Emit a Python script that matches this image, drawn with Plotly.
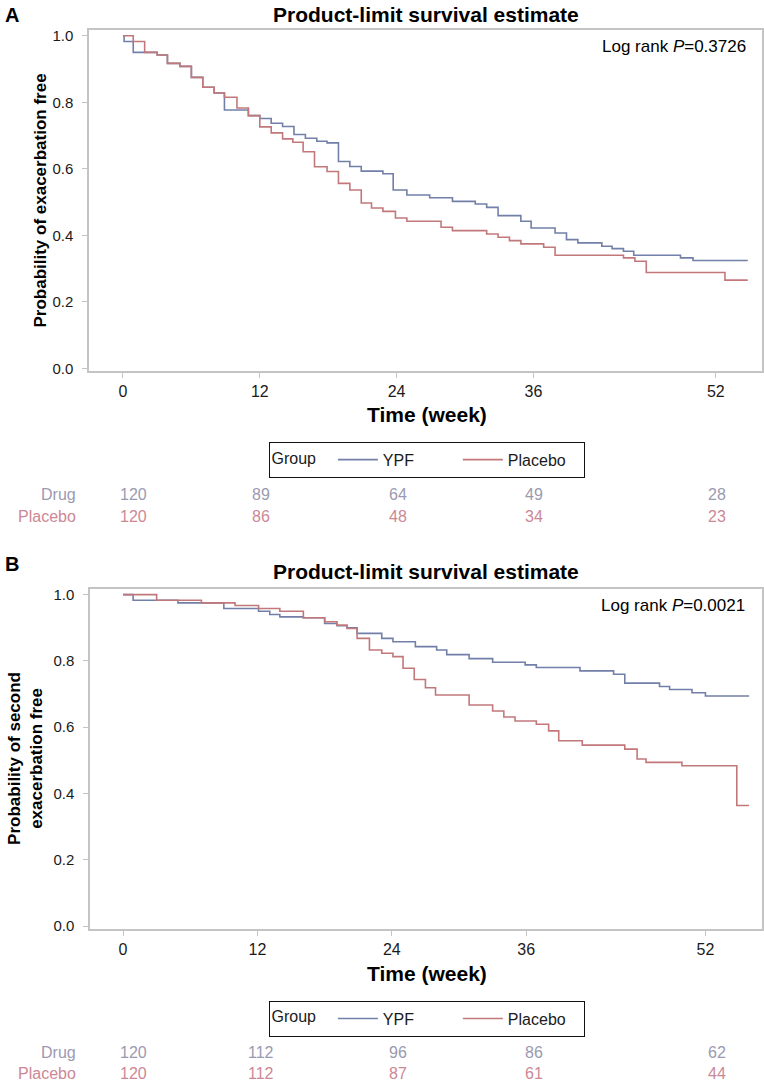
import plotly.graph_objects as go

# ---------------- data ----------------
# Panel A: time to first exacerbation (weeks) / survival probability
t_a_ypf = [0, 0.1, 0.9, 3.0, 3.9, 5.0, 6.0, 7.0, 8.0, 8.9, 11.0, 12.0, 13.0, 14.0, 15.0, 16.0, 17.0,
           17.9, 18.9, 19.9, 20.9, 22.8, 23.7, 24.9, 26.9, 28.9, 30.9, 31.9, 32.9, 34.9, 35.8, 37.9,
           38.9, 39.9, 42.0, 42.9, 43.9, 44.8, 48.9, 50.0, 54.8]
s_a_ypf = [1.0, 0.983, 0.950, 0.942, 0.917, 0.908, 0.875, 0.845, 0.828, 0.777, 0.760, 0.751, 0.737,
           0.727, 0.703, 0.692, 0.683, 0.678, 0.622, 0.607, 0.593, 0.585, 0.536, 0.521, 0.513, 0.502,
           0.494, 0.484, 0.459, 0.442, 0.422, 0.407, 0.387, 0.377, 0.367, 0.360, 0.352, 0.340, 0.332,
           0.324, 0.324]

t_a_pla = [0, 0.9, 1.9, 3.0, 3.9, 5.0, 6.0, 7.0, 8.0, 8.9, 10.0, 11.0, 12.0, 13.0, 14.0, 14.9, 15.8,
           16.8, 17.9, 18.9, 19.9, 20.9, 21.8, 22.8, 23.9, 24.9, 27.9, 28.9, 31.9, 32.9, 33.9, 34.9,
           36.9, 37.9, 43.9, 44.9, 45.9, 52.8, 54.8]
s_a_pla = [1.0, 0.983, 0.950, 0.942, 0.917, 0.908, 0.875, 0.845, 0.828, 0.815, 0.783, 0.760, 0.726,
           0.708, 0.690, 0.680, 0.651, 0.606, 0.592, 0.556, 0.536, 0.497, 0.482, 0.472, 0.452, 0.442,
           0.424, 0.414, 0.404, 0.394, 0.384, 0.374, 0.364, 0.340, 0.332, 0.322, 0.288, 0.265, 0.265]

# Panel B: time to second exacerbation
t_b_ypf = [0, 0.9, 4.9, 9.0, 12.1, 13.1, 14.0, 16.1, 18.0, 19.1, 20.0, 20.9, 23.1, 24.1, 26.1, 28.0,
           28.9, 30.9, 33.0, 35.9, 36.9, 40.8, 43.8, 44.8, 47.9, 48.8, 50.8, 52.0, 55.9]
s_b_ypf = [1.0, 0.983, 0.975, 0.958, 0.950, 0.940, 0.933, 0.930, 0.913, 0.906, 0.900, 0.883, 0.868,
           0.858, 0.843, 0.833, 0.819, 0.807, 0.796, 0.788, 0.780, 0.770, 0.760, 0.733, 0.723, 0.714,
           0.704, 0.694, 0.694]

t_b_pla = [0, 3.0, 7.0, 10.0, 12.1, 14.0, 16.1, 18.0, 19.1, 20.0, 20.9, 22.0, 23.1, 24.1, 25.0, 26.0,
           27.0, 27.9, 30.9, 33.0, 34.0, 35.0, 36.9, 38.0, 38.9, 41.0, 44.8, 45.9, 46.7, 49.9, 54.8,
           55.9]
s_b_pla = [1.0, 0.983, 0.975, 0.967, 0.958, 0.950, 0.930, 0.918, 0.908, 0.898, 0.868, 0.833, 0.823,
           0.813, 0.778, 0.744, 0.719, 0.697, 0.667, 0.649, 0.631, 0.619, 0.609, 0.589, 0.559, 0.546,
           0.534, 0.504, 0.494, 0.484, 0.364, 0.364]

x_ticks = [0, 12, 24, 36, 52]
y_ticks = [0.0, 0.2, 0.4, 0.6, 0.8, 1.0]

risk_times = [0, 12, 24, 36, 52]
risk_a_drug = [120, 89, 64, 49, 28]
risk_a_pla = [120, 86, 48, 34, 23]
risk_b_drug = [120, 112, 96, 86, 62]
risk_b_pla = [120, 112, 87, 61, 44]

group_names = ["YPF", "Placebo"]

# ---------------- styles ----------------
W, H = 764, 1085
FONT = "Liberation Sans, Arial, Helvetica, sans-serif"
C_YPF = "#727fa8"
C_PLA = "#c2787b"
C_DRUG_TXT = "#9b9ab1"
C_PLA_TXT = "#cc8895"
FRAME = "#c4c4c4"


def py(p):  # pixel row -> paper y
    return 1 - p / H


def px(p):  # pixel column -> paper x
    return p / W


fig = go.Figure()

for t, s, name, col, xa, ya, lg in [
    (t_a_ypf, s_a_ypf, group_names[0], C_YPF, "x", "y", "legend"),
    (t_a_pla, s_a_pla, group_names[1], C_PLA, "x", "y", "legend"),
    (t_b_ypf, s_b_ypf, group_names[0], C_YPF, "x2", "y2", "legend2"),
    (t_b_pla, s_b_pla, group_names[1], C_PLA, "x2", "y2", "legend2"),
]:
    fig.add_trace(go.Scatter(x=t, y=s, mode="lines", name=name,
                             line=dict(color=col, width=1.6, shape="hv"),
                             xaxis=xa, yaxis=ya, legend=lg, showlegend=True,
                             hoverinfo="skip"))

ax_common = dict(showline=True, mirror=True, linecolor=FRAME, linewidth=1.5,
                 ticks="outside", ticklen=5, tickcolor=FRAME, tickwidth=1.2,
                 showgrid=False, zeroline=False)

leg_common = dict(title=dict(text="Group  ", side="left", font=dict(size=16)),
                  orientation="h", x=px(426.5), xanchor="center", yanchor="top",
                  bordercolor="#111", borderwidth=1, bgcolor="white",
                  font=dict(size=16), itemwidth=40, tracegroupgap=0,
                  entrywidth=70, entrywidthmode="pixels")

fig.update_layout(
    width=W, height=H,
    margin=dict(l=0, r=0, t=0, b=0),
    paper_bgcolor="white", plot_bgcolor="white",
    font=dict(family=FONT, color="#1a1a1a"),
    xaxis=dict(domain=[px(89), px(762)], range=[-2.98, 56.05], tickvals=x_ticks,
               anchor="y", tickfont=dict(size=16), **ax_common),
    yaxis=dict(domain=[py(371), py(27)], range=[-0.009, 1.018], tickvals=y_ticks,
               tickformat=".1f", anchor="x", tickfont=dict(size=15),
               ticklabelstandoff=6, **ax_common),
    xaxis2=dict(domain=[px(90), px(762)], range=[-2.95, 57.05], tickvals=x_ticks,
                anchor="y2", tickfont=dict(size=16), **ax_common),
    yaxis2=dict(domain=[py(933), py(590)], range=[-0.009, 1.018], tickvals=y_ticks,
                tickformat=".1f", anchor="x2", tickfont=dict(size=15),
                ticklabelstandoff=6, **ax_common),
    legend=dict(y=py(442), **leg_common),
    legend2=dict(y=py(1005), **leg_common),
)

ann = []
# panel letters
ann.append(dict(text="<b>A</b>", x=px(3), y=py(12), xanchor="left", yanchor="middle",
                font=dict(size=20, color="black")))
ann.append(dict(text="<b>B</b>", x=px(3), y=py(565), xanchor="left", yanchor="middle",
                font=dict(size=20, color="black")))
# titles
for yy in (12, 573):
    ann.append(dict(text="<b>Product-limit survival estimate</b>", x=px(425.5), y=py(yy),
                    xanchor="center", yanchor="middle", font=dict(size=21, color="black")))
# log-rank
ann.append(dict(text="Log rank <i>P</i>=0.3726", x=px(748), y=py(43.5), xanchor="right",
                yanchor="middle", font=dict(size=17, color="black")))
ann.append(dict(text="Log rank <i>P</i>=0.0021", x=px(747), y=py(607), xanchor="right",
                yanchor="middle", font=dict(size=17, color="black")))
# y titles
ann.append(dict(text="<b>Probability of exacerbation free</b>", x=px(41), y=py(199),
                xanchor="center", yanchor="middle", textangle=-90,
                font=dict(size=17, color="black")))
ann.append(dict(text="<b>Probability of second<br>exacerbation free</b>", x=px(25.5), y=py(761),
                xanchor="center", yanchor="middle", textangle=-90,
                font=dict(size=17, color="black")))
# x titles
for yy in (415, 978):
    ann.append(dict(text="<b>Time (week)</b>", x=px(427), y=py(yy), xanchor="center",
                    yanchor="middle", font=dict(size=21, color="black")))

# risk tables (positioned on panel A's time scale, as in the original)
for (drug, pla, y1, y2) in [(risk_a_drug, risk_a_pla, 495, 517),
                            (risk_b_drug, risk_b_pla, 1057, 1078)]:
    ann.append(dict(text="Drug", x=px(78), y=py(y1), xanchor="right", yanchor="middle",
                    font=dict(size=16, color=C_DRUG_TXT)))
    ann.append(dict(text="Placebo", x=px(78), y=py(y2), xanchor="right", yanchor="middle",
                    font=dict(size=16, color=C_PLA_TXT)))
    for i, (t, nd, npl) in enumerate(zip(risk_times, drug, pla)):
        shift = 11 if i == 0 else 1
        ann.append(dict(text=str(nd), x=t, xref="x", y=py(y1), yref="paper",
                        xanchor="center", yanchor="middle", xshift=shift,
                        font=dict(size=16, color=C_DRUG_TXT)))
        ann.append(dict(text=str(npl), x=t, xref="x", y=py(y2), yref="paper",
                        xanchor="center", yanchor="middle", xshift=shift,
                        font=dict(size=16, color=C_PLA_TXT)))

for a in ann:
    a.setdefault("xref", "paper")
    a.setdefault("yref", "paper")
    a["showarrow"] = False
fig.update_layout(annotations=ann)

fig.write_html("out.html",
               config={"displayModeBar": False},
               post_script="document.body.style.margin='0';document.body.style.overflow='hidden';")
